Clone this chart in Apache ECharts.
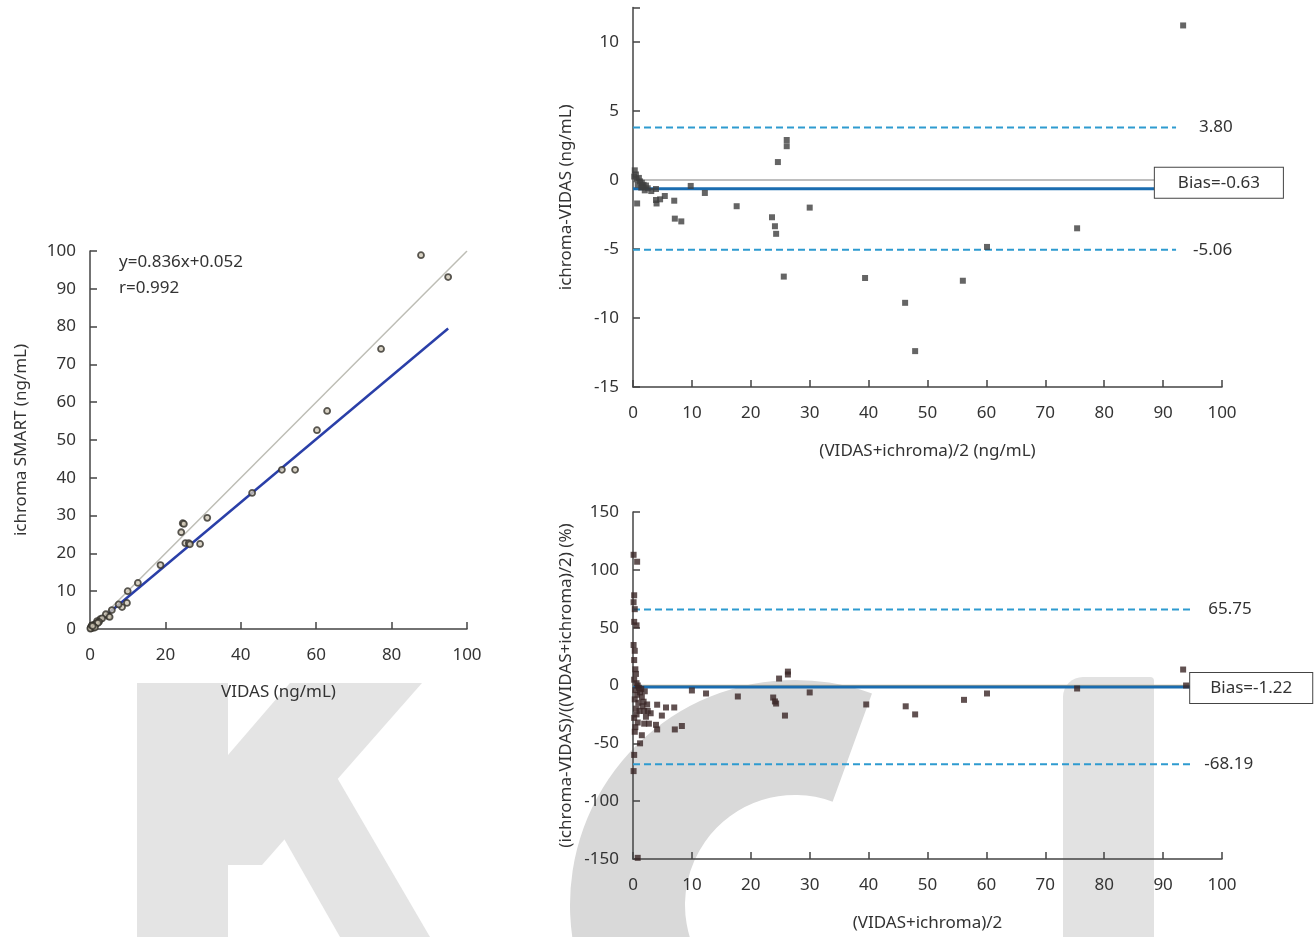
<!DOCTYPE html>
<html>
<head>
<meta charset="utf-8">
<script src="https://cdn.jsdelivr.net/npm/echarts@6/dist/echarts.min.js"></script>
<style>
  html, body { margin: 0; padding: 0; background: #fff; }
  #chart { width: 1316px; height: 937px; }
</style>
</head>
<body>
<div id="chart"></div>
<script>
// correlation: VIDAS (x) vs ichroma SMART (y)
const corrPoints = [
  [87.8, 98.9], [95, 93.1], [77.2, 74.1], [62.9, 57.7], [60.2, 52.6], [50.9, 42.1], [54.4, 42.1],
  [43.0, 36.0], [31.1, 29.4], [24.6, 28.0], [24.9, 27.8], [24.2, 25.6], [25.3, 22.7], [26.2, 22.7],
  [26.5, 22.4], [29.2, 22.5], [18.7, 16.9], [12.7, 12.2], [10.0, 10.0], [9.8, 6.9], [8.5, 5.8],
  [7.6, 6.5], [5.8, 5.0], [4.9, 3.4], [4.2, 3.9], [5.2, 3.2], [2.7, 2.6], [1.9, 2.1], [3.2, 2.8],
  [2.4, 1.9], [1.5, 1.3], [1.2, 0.9], [0.9, 1.1], [0.6, 0.5], [0.4, 0.7], [0.3, 0.2], [0.2, 0.4],
  [0.8, 0.3], [1.0, 0.6], [0.1, 0.1], [1.7, 1.5], [2.1, 1.6], [0.5, 0.9], [1.3, 0.4], [0.7, 0.8]
]
const identityLine = [[0, 0], [100, 100]]
const regressionLine = [[0, 0.05], [95, 79.5]]
const corrTicksX = { min: 0, max: 100, interval: 20 }
const corrTicksY = { min: 0, max: 100, interval: 10 }

// Bland-Altman, absolute difference
const diffPoints = [
  [93.4, 11.2], [26.1, 2.9], [26.1, 2.45], [24.6, 1.3], [9.8, -0.43], [12.2, -0.94], [0.7, -1.7],
  [0.3, 0.7], [0.2, 0.25], [0.6, 0.05], [1.0, 0.15], [1.2, -0.1], [1.5, -0.2], [1.8, -0.35],
  [2.2, -0.4], [2.5, -0.6], [3.1, -0.8], [1.4, -0.55], [0.8, -0.35], [2.0, -0.75], [3.9, -0.65],
  [3.9, -1.45], [4.0, -1.7], [4.6, -1.4], [5.4, -1.16], [7.0, -1.5], [7.1, -2.8], [8.2, -3.0],
  [17.6, -1.9], [30.0, -2.0], [23.6, -2.7], [24.1, -3.35], [24.3, -3.9], [25.6, -7.0], [39.4, -7.1],
  [46.2, -8.9], [47.9, -12.4], [75.4, -3.5], [60.1, -4.85], [56.0, -7.3], [0.5, 0.4], [1.6, -0.5]
]
const diffBias = -0.63
const diffUpper = 3.80
const diffLower = -5.06
const diffBiasEnd = 88.6
const diffLimitEnd = 92.2

// Bland-Altman, percent difference
const pctPoints = [
  [0.1, 113], [0.7, 107], [0.2, 78], [0.1, 72], [0.3, 66], [0.2, 55], [0.6, 52], [0.1, 35], [0.3, 30],
  [0.2, 22], [0.4, 14], [0.5, 10], [0.2, 5], [0.6, 2], [0.8, 0], [1.0, -2], [0.4, -4], [1.2, -6],
  [0.7, -8], [1.5, -10], [0.3, -12], [0.9, -15], [1.8, -14], [0.5, -20], [1.1, -22], [0.2, -28],
  [0.8, -32], [1.5, -43], [1.2, -50], [0.1, -74], [0.8, -149], [1.4, -3], [2.0, -5], [0.6, -25],
  [0.3, -40], [1.6, -18], [0.4, -36], [0.2, -60],
  [2.4, -16.4], [4.1, -16.6], [5.6, -19], [7.0, -19], [4.9, -26], [2.7, -33], [1.9, -33], [3.9, -34],
  [4.1, -38], [7.1, -38], [8.3, -35], [2.5, -22], [3.0, -24], [1.9, -22], [2.2, -27],
  [10.0, -4.3], [12.4, -6.9], [17.8, -9.5], [23.8, -10.4], [24.1, -13.8], [24.3, -15.6], [25.8, -26],
  [24.8, 6], [26.3, 12], [26.3, 9.5], [30.0, -6], [39.6, -16.4], [46.3, -18], [47.9, -25],
  [56.2, -12.4], [60.1, -6.9], [75.4, -2.6], [93.4, 13.8], [93.9, 0]
]
const pctBias = -1.22
const pctUpper = 65.75
const pctLower = -68.19
const pctLineEnd = 94.6

const font = 'Noto Sans'
const axisColor = '#444'
const textColor = '#333'

function valueAxis (gridIndex, ticks, name, nameGap, extra) {
  return Object.assign({
    type: 'value',
    gridIndex: gridIndex,
    min: ticks.min,
    max: ticks.max,
    interval: ticks.interval,
    name: name,
    nameLocation: 'middle',
    nameGap: nameGap,
    nameTextStyle: { fontFamily: font, fontSize: 17, color: textColor },
    axisLine: { show: true, onZero: false, lineStyle: { color: axisColor, width: 1.5 } },
    axisTick: { show: true, inside: true, length: 7, lineStyle: { color: axisColor, width: 1.5 } },
    axisLabel: { fontFamily: font, fontSize: 17, color: textColor, margin: 14 },
    splitLine: { show: false }
  }, extra || {})
}

const xLabel = { fontFamily: font, fontSize: 17, color: textColor, margin: 18 }

function hLine (y, x1, x2) {
  return [[x1, y], [x2, y]]
}

const myChart = echarts.init(document.getElementById('chart'))

const option = {
  backgroundColor: '#fff',
  animation: false,
  graphic: [
    // KCI watermark
    { type: 'polygon', z: -10, shape: { points: [[137, 683], [228, 683], [228, 937], [137, 937]] }, style: { fill: '#e4e4e4' } },
    { type: 'polygon', z: -10, shape: { points: [[290, 683], [422, 683], [262, 865], [228, 865], [228, 755]] }, style: { fill: '#e4e4e4' } },
    { type: 'polygon', z: -10, shape: { points: [[262, 800], [318, 745], [430, 937], [340, 937]] }, style: { fill: '#e4e4e4' } },
    { type: 'sector', z: -10, shape: { cx: 795, cy: 905, r: 225, r0: 110, startAngle: -70 * Math.PI / 180, endAngle: 35 * Math.PI / 180, clockwise: false }, style: { fill: '#d9d9d9' } },
    { type: 'rect', z: -10, shape: { x: 1063, y: 677, width: 91, height: 260, r: [20, 4, 0, 0] }, style: { fill: '#e2e2e2' } },
    // regression text
    { type: 'text', z: 100, left: 119, top: 254, style: { text: 'y=0.836x+0.052', font: '17px "Noto Sans"', fill: textColor } },
    { type: 'text', z: 100, left: 119, top: 280, style: { text: 'r=0.992', font: '17px "Noto Sans"', fill: textColor } }
  ],
  grid: [
    { left: 90, top: 251, width: 377, height: 378 },
    { left: 633, top: 7.5, width: 589, height: 379.5 },
    { left: 633, top: 512, width: 589, height: 347 }
  ],
  xAxis: [
    valueAxis(0, corrTicksX, 'VIDAS (ng/mL)', 55, { axisLabel: xLabel }),
    valueAxis(1, { min: 0, max: 100, interval: 10 }, '(VIDAS+ichroma)/2 (ng/mL)', 56, { axisLabel: xLabel }),
    valueAxis(2, { min: 0, max: 100, interval: 10 }, '(VIDAS+ichroma)/2', 56, { axisLabel: xLabel })
  ],
  yAxis: [
    valueAxis(0, corrTicksY, 'ichroma SMART (ng/mL)', 60),
    valueAxis(1, { min: -15, max: 12.5, interval: 5 }, 'ichroma-VIDAS (ng/mL)', 58, {
      axisLabel: { fontFamily: font, fontSize: 17, color: textColor, margin: 14, formatter: v => (v % 5 === 0 ? v : '') }
    }),
    valueAxis(2, { min: -150, max: 150, interval: 50 }, '(ichroma-VIDAS)/((VIDAS+ichroma)/2) (%)', 58)
  ],
  series: [
    // correlation plot
    { type: 'line', xAxisIndex: 0, yAxisIndex: 0, data: identityLine, symbol: 'none', lineStyle: { color: '#bdbdb5', width: 1.5 }, z: 1 },
    { type: 'line', xAxisIndex: 0, yAxisIndex: 0, data: regressionLine, symbol: 'none', lineStyle: { color: '#2a3fa8', width: 2.5 }, z: 2 },
    {
      type: 'scatter', xAxisIndex: 0, yAxisIndex: 0, data: corrPoints, symbol: 'circle', symbolSize: 6,
      itemStyle: { color: '#cfc8b6', borderColor: '#33312a', borderWidth: 1.8 }, z: 3
    },

    // absolute difference plot
    { type: 'line', xAxisIndex: 1, yAxisIndex: 1, data: hLine(0, 0, diffBiasEnd), symbol: 'none', lineStyle: { color: '#a8a8a8', width: 1.5 } },
    {
      type: 'line', xAxisIndex: 1, yAxisIndex: 1, data: hLine(diffBias, 0, diffBiasEnd), symbol: 'none',
      lineStyle: { color: '#1a6cb0', width: 3 },
      endLabel: {
        show: true, distance: 0, offset: [0, -6], formatter: 'Bias=' + diffBias.toFixed(2),
        fontFamily: font, fontSize: 17, color: textColor, lineHeight: 20,
        backgroundColor: '#fff', borderColor: '#444', borderWidth: 1, padding: [5, 23]
      }
    },
    {
      type: 'line', xAxisIndex: 1, yAxisIndex: 1, data: hLine(diffUpper, 0, diffLimitEnd), symbol: 'none',
      lineStyle: { color: '#2e9bd0', width: 2, type: [7, 4] },
      endLabel: { show: true, distance: 23, formatter: diffUpper.toFixed(2), fontFamily: font, fontSize: 17, color: textColor }
    },
    {
      type: 'line', xAxisIndex: 1, yAxisIndex: 1, data: hLine(diffLower, 0, diffLimitEnd), symbol: 'none',
      lineStyle: { color: '#2e9bd0', width: 2, type: [7, 4] },
      endLabel: { show: true, distance: 17, formatter: diffLower.toFixed(2), fontFamily: font, fontSize: 17, color: textColor }
    },
    {
      type: 'scatter', xAxisIndex: 1, yAxisIndex: 1, data: diffPoints, symbol: 'rect', symbolSize: 6,
      itemStyle: { color: '#3e3e3e' }, z: 5
    },

    // percent difference plot
    { type: 'line', xAxisIndex: 2, yAxisIndex: 2, data: hLine(0, 0, pctLineEnd), symbol: 'none', lineStyle: { color: '#c9b48e', width: 1.5 } },
    {
      type: 'line', xAxisIndex: 2, yAxisIndex: 2, data: hLine(pctBias, 0, pctLineEnd), symbol: 'none',
      lineStyle: { color: '#1a6cb0', width: 3 },
      endLabel: {
        show: true, distance: 0, offset: [0, 1], formatter: 'Bias=' + pctBias.toFixed(2),
        fontFamily: font, fontSize: 17, color: textColor, lineHeight: 20,
        backgroundColor: '#fff', borderColor: '#444', borderWidth: 1, padding: [5, 20]
      }
    },
    {
      type: 'line', xAxisIndex: 2, yAxisIndex: 2, data: hLine(pctUpper, 0, pctLineEnd), symbol: 'none',
      lineStyle: { color: '#2e9bd0', width: 2, type: [7, 4] },
      endLabel: { show: true, distance: 18, formatter: pctUpper.toFixed(2), fontFamily: font, fontSize: 17, color: textColor }
    },
    {
      type: 'line', xAxisIndex: 2, yAxisIndex: 2, data: hLine(pctLower, 0, pctLineEnd), symbol: 'none',
      lineStyle: { color: '#2e9bd0', width: 2, type: [7, 4] },
      endLabel: { show: true, distance: 14, formatter: pctLower.toFixed(2), fontFamily: font, fontSize: 17, color: textColor }
    },
    {
      type: 'scatter', xAxisIndex: 2, yAxisIndex: 2, data: pctPoints, symbol: 'rect', symbolSize: 6,
      itemStyle: { color: '#3a2626' }, z: 5
    }
  ]
}

myChart.setOption(option)
</script>
</body>
</html>
